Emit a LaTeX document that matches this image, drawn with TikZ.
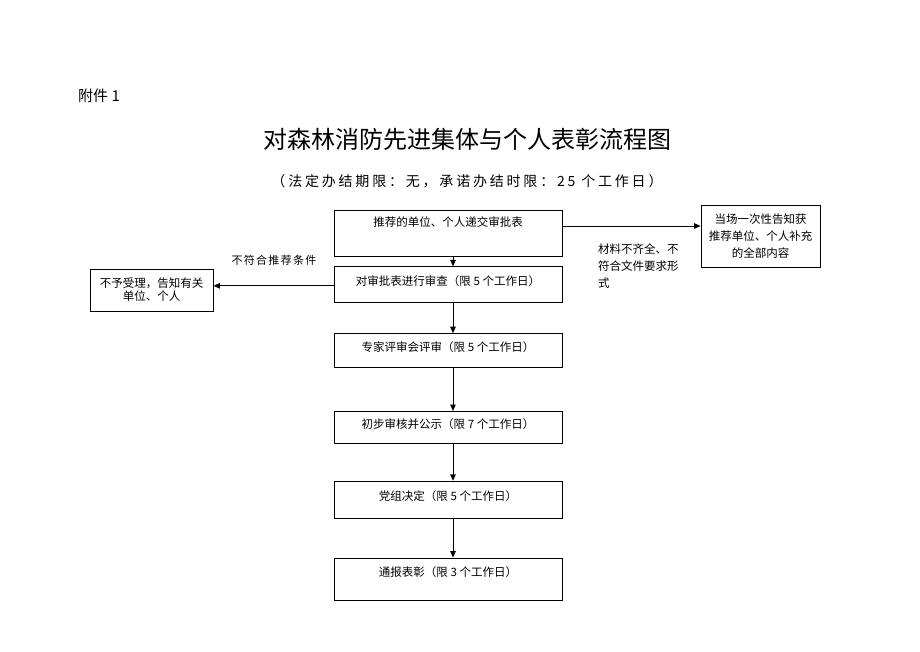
\documentclass[tikz,border=0pt]{standalone}
\usepackage{fontspec}
\setmainfont{Noto Sans CJK SC}
\newfontfamily\spacedfont[LetterSpace=20]{Noto Sans CJK SC}
\newfontfamily\notefont[LetterSpace=12]{Noto Sans CJK SC}
\usetikzlibrary{positioning, calc, arrows.meta}

\begin{document}
\begin{tikzpicture}[x=1pt, y=-1pt,
  flowbox/.style={draw, line width=0.8pt, minimum width=\flowboxwidth, minimum height=35pt, inner sep=0pt,
    text height=10pt, text depth=8pt, font=\fontsize{11.5}{13}\selectfont},
  sidebox/.style={draw, line width=0.8pt, inner sep=0pt, align=center},
  flowarrow/.style={line width=1pt, -{Triangle[length=6.5pt, width=5.5pt]}}]
  \newcommand\flowboxwidth{228pt}
  \newcommand\arrowshift{5pt} % arrows sit a bit right of the box centre

  \useasboundingbox (0,0) rectangle (920,651);

  % heading
  \node[anchor=west, inner sep=0pt, font=\fontsize{15}{15}\selectfont] at (78,96) (annex) {附件 1};
  \node[inner sep=0pt, font=\fontsize{24}{24}\selectfont] at (467,139) (title) {对森林消防先进集体与个人表彰流程图};
  \node[inner sep=0pt, font=\spacedfont\fontsize{14}{14}\selectfont] at (467,181) (subtitle) {（法定办结期限：无，承诺办结时限：25 个工作日）};

  % main chain
  \node[flowbox, minimum height=46pt, text depth=23pt] at (448,233) (submit) {推荐的单位、个人递交审批表};
  \node[flowbox, minimum height=36pt, below=10pt of submit] (check) {对审批表进行审查（限 5 个工作日）};
  \node[flowbox, minimum height=34pt, below=30pt of check] (expert) {专家评审会评审（限 5 个工作日）};
  \node[flowbox, minimum height=32pt, below=43pt of expert] (publish) {初步审核并公示（限 7 个工作日）};
  \node[flowbox, minimum height=37pt, below=37pt of publish] (decide) {党组决定（限 5 个工作日）};
  \node[flowbox, minimum height=42pt, text depth=15pt, below=39pt of decide] (award) {通报表彰（限 3 个工作日）};

  % side boxes
  \node[sidebox, minimum width=123pt, minimum height=42pt, font=\fontsize{11.5}{13}\selectfont] at (151.5,290) (reject) {不予受理，告知有关\\单位、个人};
  \node[sidebox, minimum width=119pt, minimum height=62pt, font=\fontsize{11.5}{17}\selectfont] at (760.5,236) (notify) {当场一次性告知获\\推荐单位、个人补充\\的全部内容};

  % labels
  \node[anchor=west, inner sep=0pt, align=left, font=\fontsize{11.5}{17}\selectfont] at (598,266) (lackinfo) {材料不齐全、不\\符合文件要求形\\式};
  \node[inner sep=0pt, font=\notefont\fontsize{11}{13}\selectfont] at (274,260) (unfit) {不符合推荐条件};

  % connectors
  \draw[flowarrow] ([xshift=\arrowshift]submit.south) -- ([xshift=\arrowshift]check.north);
  \draw[flowarrow] ([xshift=\arrowshift]check.south) -- ([xshift=\arrowshift]expert.north);
  \draw[flowarrow] ([xshift=\arrowshift]expert.south) -- ([xshift=\arrowshift]publish.north);
  \draw[flowarrow] ([xshift=\arrowshift]publish.south) -- ([xshift=\arrowshift]decide.north);
  \draw[flowarrow] ([xshift=\arrowshift]decide.south) -- ([xshift=\arrowshift]award.north);
  \draw[flowarrow] ([yshift=7pt]submit.east) -- ([yshift=7pt]submit.east -| notify.west);
  \draw[flowarrow] ([yshift=-1pt]check.west) -- ([yshift=-1pt]check.west -| reject.east);
\end{tikzpicture}
\end{document}
